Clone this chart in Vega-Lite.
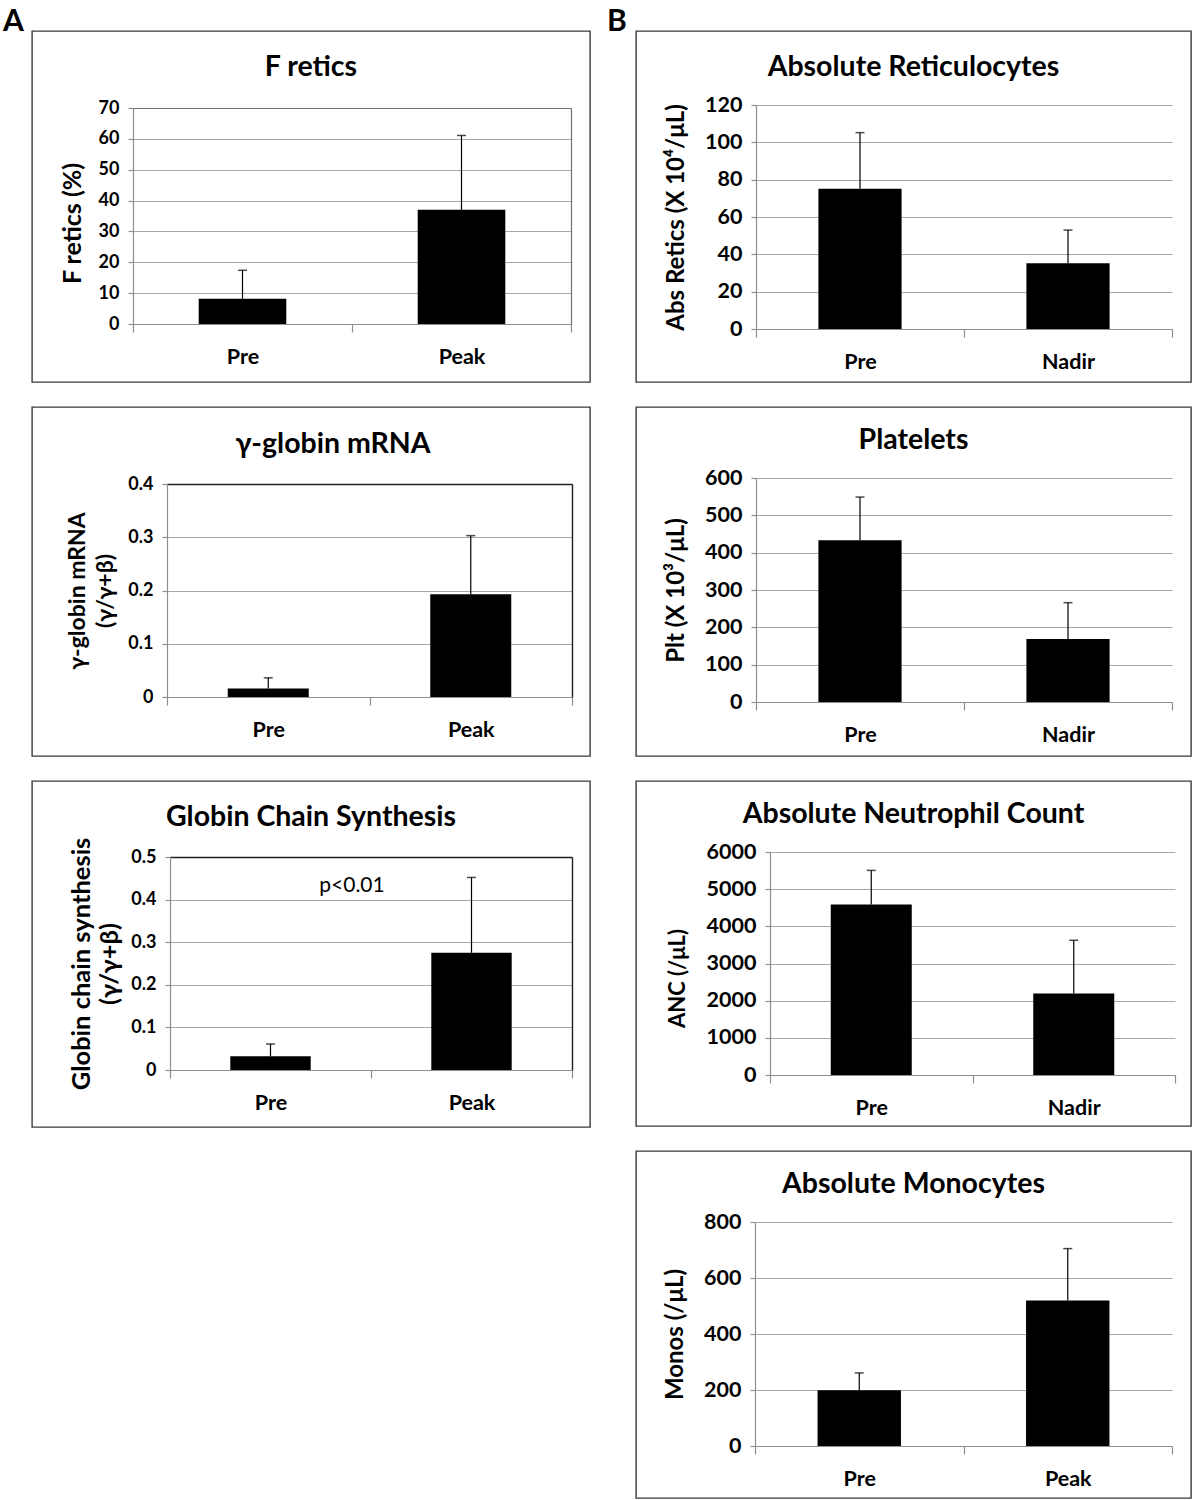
{
  "$schema": "https://vega.github.io/schema/vega-lite/v6.json",
  "padding": {"left": 3, "top": 7, "right": 0, "bottom": 0},
  "spacing": 16,
  "config": {
    "font": "Lato",
    "view": {"stroke": "#3a3a3a", "strokeWidth": 1.4},
    "axis": {
      "labelFont": "Lato", "labelFontWeight": "bold", "labelColor": "#000",
      "titleFont": "Lato", "titleFontWeight": "bold", "titleColor": "#000",
      "domainColor": "#8f8f8f", "tickColor": "#8f8f8f", "gridColor": "#a8a8a8",
      "domainWidth": 1.2, "gridWidth": 1.2, "tickWidth": 1.2
    },
    "title": {"font": "Lato", "fontWeight": "bold", "color": "#000", "fontSize": 28.5, "frame": "group", "anchor": "middle"},
    "bar": {"color": "#000"},
    "rule": {"color": "#000"},
    "tick": {"color": "#000"},
    "text": {"color": "#000"}
  },
  "datasets": {
    "fretics": [{"cond": "Pre", "mean": 8.2, "upper": 17.4}, {"cond": "Peak", "mean": 37.0, "upper": 61.1}],
    "gmrna": [{"cond": "Pre", "mean": 0.016, "upper": 0.036}, {"cond": "Peak", "mean": 0.193, "upper": 0.303}],
    "gcs": [{"cond": "Pre", "mean": 0.032, "upper": 0.061}, {"cond": "Peak", "mean": 0.275, "upper": 0.452}],
    "gcsnote": [{"cond": "Peak", "y": 0.432, "label": "p<0.01"}],
    "retic": [{"cond": "Pre", "mean": 75.2, "upper": 105.2}, {"cond": "Nadir", "mean": 35.2, "upper": 53.0}],
    "plt": [{"cond": "Pre", "mean": 433, "upper": 549}, {"cond": "Nadir", "mean": 169, "upper": 266}],
    "anc": [{"cond": "Pre", "mean": 4590, "upper": 5505}, {"cond": "Nadir", "mean": 2195, "upper": 3625}],
    "mono": [{"cond": "Pre", "mean": 199, "upper": 261}, {"cond": "Peak", "mean": 520, "upper": 705}]
  },
  "hconcat": [
    {
      "title": {"text": "A", "anchor": "start", "dx": -29, "offset": -7, "fontSize": 30},
      "spacing": 23,
      "vconcat": [
        {
          "width": 558, "height": 351,
          "data": {"name": "fretics"},
          "title": {"text": "F retics", "offset": -50},
          "layer": [
            {"mark": {"type": "bar", "width": {"band": 0.4}},
             "encoding": {
               "x": {"field": "cond", "type": "nominal", "sort": null, "scale": {"type": "band", "range": [101, 539], "paddingInner": 0, "paddingOuter": 0},
                     "axis": {"orient": "bottom", "offset": -58, "title": null, "labelAngle": 0, "labelFontSize": 21.5, "labelPadding": 14, "tickBand": "extent", "tickSize": 8, "grid": false}},
               "y": {"field": "mean", "type": "quantitative", "scale": {"domain": [0, 70], "range": [293, 77], "nice": false},
                     "axis": {"orient": "left", "offset": -101, "values": [0, 10, 20, 30, 40, 50, 60, 70], "labelExpr": "format(datum.value, '~g')", "title": "F retics (%)", "titleFontSize": 25, "titlePadding": 13, "titleY": 192, "labelFontSize": 18, "labelPadding": 9, "tickSize": 5, "grid": true}}
             }},
            {"mark": {"type": "rule", "strokeWidth": 1.2},
             "encoding": {
               "x": {"field": "cond", "type": "nominal", "sort": null, "scale": {"type": "band", "range": [101, 539], "paddingInner": 0, "paddingOuter": 0}, "axis": null},
               "y": {"field": "mean", "type": "quantitative", "scale": {"domain": [0, 70], "range": [293, 77], "nice": false}, "axis": null},
               "y2": {"field": "upper"}
             }},
            {"mark": {"type": "tick", "size": 9, "thickness": 1.5},
             "encoding": {
               "x": {"field": "cond", "type": "nominal", "sort": null, "scale": {"type": "band", "range": [101, 539], "paddingInner": 0, "paddingOuter": 0},
                     "axis": {"orient": "top", "offset": -77, "domainColor": "#707070", "labels": false, "ticks": false, "grid": false, "title": null}},
               "y": {"field": "upper", "type": "quantitative", "scale": {"domain": [0, 70], "range": [293, 77], "nice": false},
                     "axis": {"orient": "right", "offset": -19, "domainColor": "#707070", "labels": false, "ticks": false, "grid": false, "title": null}}
             }}
          ],
          "resolve": {"axis": {"x": "independent", "y": "independent"}}
        },
        {
          "width": 558, "height": 349,
          "data": {"name": "gmrna"},
          "title": {"text": "γ-globin mRNA", "offset": -51, "dx": 22},
          "layer": [
            {"mark": {"type": "bar", "width": {"band": 0.4}},
             "encoding": {
               "x": {"field": "cond", "type": "nominal", "sort": null, "scale": {"type": "band", "range": [135, 540], "paddingInner": 0, "paddingOuter": 0},
                     "axis": {"orient": "bottom", "offset": -59, "title": null, "labelAngle": 0, "labelFontSize": 21.5, "labelPadding": 14, "tickBand": "extent", "tickSize": 8, "grid": false}},
               "y": {"field": "mean", "type": "quantitative", "scale": {"domain": [0, 0.4], "range": [290, 77], "nice": false},
                     "axis": {"orient": "left", "offset": -135, "values": [0, 0.1, 0.2, 0.3, 0.4], "labelExpr": "format(datum.value, '~g')", "title": ["γ-globin mRNA", "(γ/γ+β)"], "titleLineHeight": 28, "titleFontSize": 23, "titlePadding": 10, "labelFontSize": 18, "labelPadding": 9, "tickSize": 5, "grid": true}}
             }},
            {"mark": {"type": "rule", "strokeWidth": 1.2},
             "encoding": {
               "x": {"field": "cond", "type": "nominal", "sort": null, "scale": {"type": "band", "range": [135, 540], "paddingInner": 0, "paddingOuter": 0}, "axis": null},
               "y": {"field": "mean", "type": "quantitative", "scale": {"domain": [0, 0.4], "range": [290, 77], "nice": false}, "axis": null},
               "y2": {"field": "upper"}
             }},
            {"mark": {"type": "tick", "size": 9, "thickness": 1.5},
             "encoding": {
               "x": {"field": "cond", "type": "nominal", "sort": null, "scale": {"type": "band", "range": [135, 540], "paddingInner": 0, "paddingOuter": 0},
                     "axis": {"orient": "top", "offset": -77, "domainColor": "#202020", "domainWidth": 1.4, "labels": false, "ticks": false, "grid": false, "title": null}},
               "y": {"field": "upper", "type": "quantitative", "scale": {"domain": [0, 0.4], "range": [290, 77], "nice": false},
                     "axis": {"orient": "right", "offset": -18, "domainColor": "#202020", "domainWidth": 1.4, "labels": false, "ticks": false, "grid": false, "title": null}}
             }}
          ],
          "resolve": {"axis": {"x": "independent", "y": "independent"}}
        },
        {
          "width": 558, "height": 346,
          "data": {"name": "gcs"},
          "title": {"text": "Globin Chain Synthesis", "offset": -50},
          "layer": [
            {"mark": {"type": "bar", "width": {"band": 0.4}},
             "encoding": {
               "x": {"field": "cond", "type": "nominal", "sort": null, "scale": {"type": "band", "range": [138, 540], "paddingInner": 0, "paddingOuter": 0},
                     "axis": {"orient": "bottom", "offset": -57, "title": null, "labelAngle": 0, "labelFontSize": 21.5, "labelPadding": 14, "tickBand": "extent", "tickSize": 8, "grid": false}},
               "y": {"field": "mean", "type": "quantitative", "scale": {"domain": [0, 0.5], "range": [289, 76], "nice": false},
                     "axis": {"orient": "left", "offset": -138, "values": [0, 0.1, 0.2, 0.3, 0.4, 0.5], "labelExpr": "format(datum.value, '~g')", "title": ["Globin chain synthesis", "(γ/γ+β)"], "titleLineHeight": 28, "titleFontSize": 25.5, "titlePadding": 8, "labelFontSize": 18, "labelPadding": 9, "tickSize": 5, "grid": true}}
             }},
            {"mark": {"type": "rule", "strokeWidth": 1.2},
             "encoding": {
               "x": {"field": "cond", "type": "nominal", "sort": null, "scale": {"type": "band", "range": [138, 540], "paddingInner": 0, "paddingOuter": 0}, "axis": null},
               "y": {"field": "mean", "type": "quantitative", "scale": {"domain": [0, 0.5], "range": [289, 76], "nice": false}, "axis": null},
               "y2": {"field": "upper"}
             }},
            {"mark": {"type": "tick", "size": 9, "thickness": 1.5},
             "encoding": {
               "x": {"field": "cond", "type": "nominal", "sort": null, "scale": {"type": "band", "range": [138, 540], "paddingInner": 0, "paddingOuter": 0},
                     "axis": {"orient": "top", "offset": -76, "domainColor": "#202020", "domainWidth": 1.4, "labels": false, "ticks": false, "grid": false, "title": null}},
               "y": {"field": "upper", "type": "quantitative", "scale": {"domain": [0, 0.5], "range": [289, 76], "nice": false},
                     "axis": {"orient": "right", "offset": -18, "domainColor": "#202020", "domainWidth": 1.4, "labels": false, "ticks": false, "grid": false, "title": null}}
             }},
            {"data": {"name": "gcsnote"},
             "mark": {"type": "text", "fontSize": 21, "fontWeight": "normal", "dx": -19, "baseline": "middle", "align": "center"},
             "encoding": {
               "x": {"field": "cond", "type": "nominal", "sort": null, "bandPosition": 0, "scale": {"type": "band", "range": [138, 540], "paddingInner": 0, "paddingOuter": 0}, "axis": null},
               "y": {"field": "y", "type": "quantitative", "scale": {"domain": [0, 0.5], "range": [289, 76], "nice": false}, "axis": null},
               "text": {"field": "label"}
             }}
          ],
          "resolve": {"axis": {"x": "independent", "y": "independent"}}
        }
      ]
    },
    {
      "title": {"text": "B", "anchor": "start", "dx": -29, "offset": -7, "fontSize": 30},
      "spacing": 23,
      "vconcat": [
        {
          "width": 555, "height": 351,
          "data": {"name": "retic"},
          "title": {"text": "Absolute Reticulocytes", "offset": -50},
          "layer": [
            {"mark": {"type": "bar", "width": {"band": 0.4}},
             "encoding": {
               "x": {"field": "cond", "type": "nominal", "sort": null, "scale": {"type": "band", "range": [120, 536], "paddingInner": 0, "paddingOuter": 0},
                     "axis": {"orient": "bottom", "offset": -53, "title": null, "labelAngle": 0, "labelFontSize": 21.5, "labelPadding": 14, "tickBand": "extent", "tickSize": 8, "grid": false}},
               "y": {"field": "mean", "type": "quantitative", "scale": {"domain": [0, 120], "range": [298, 74], "nice": false},
                     "axis": {"orient": "left", "offset": -120, "values": [0, 20, 40, 60, 80, 100, 120], "labelExpr": "format(datum.value, '~g')", "title": "Abs Retics (X 10⁴/μL)", "titleFontSize": 24, "titlePadding": 16, "labelFontSize": 21.5, "labelPadding": 9, "tickSize": 5, "grid": true}}
             }},
            {"mark": {"type": "rule", "strokeWidth": 1.2},
             "encoding": {
               "x": {"field": "cond", "type": "nominal", "sort": null, "scale": {"type": "band", "range": [120, 536], "paddingInner": 0, "paddingOuter": 0}, "axis": null},
               "y": {"field": "mean", "type": "quantitative", "scale": {"domain": [0, 120], "range": [298, 74], "nice": false}, "axis": null},
               "y2": {"field": "upper"}
             }},
            {"mark": {"type": "tick", "size": 9, "thickness": 1.5},
             "encoding": {
               "x": {"field": "cond", "type": "nominal", "sort": null, "scale": {"type": "band", "range": [120, 536], "paddingInner": 0, "paddingOuter": 0}, "axis": null},
               "y": {"field": "upper", "type": "quantitative", "scale": {"domain": [0, 120], "range": [298, 74], "nice": false}, "axis": null}
             }}
          ],
          "resolve": {"axis": {"x": "independent", "y": "independent"}}
        },
        {
          "width": 555, "height": 349,
          "data": {"name": "plt"},
          "title": {"text": "Platelets", "offset": -47},
          "layer": [
            {"mark": {"type": "bar", "width": {"band": 0.4}},
             "encoding": {
               "x": {"field": "cond", "type": "nominal", "sort": null, "scale": {"type": "band", "range": [120, 536], "paddingInner": 0, "paddingOuter": 0},
                     "axis": {"orient": "bottom", "offset": -54, "title": null, "labelAngle": 0, "labelFontSize": 21.5, "labelPadding": 14, "tickBand": "extent", "tickSize": 8, "grid": false}},
               "y": {"field": "mean", "type": "quantitative", "scale": {"domain": [0, 600], "range": [295, 71], "nice": false},
                     "axis": {"orient": "left", "offset": -120, "values": [0, 100, 200, 300, 400, 500, 600], "labelExpr": "format(datum.value, '~g')", "title": "Plt (X 10³/μL)", "titleFontSize": 24, "titlePadding": 16, "labelFontSize": 21.5, "labelPadding": 9, "tickSize": 5, "grid": true}}
             }},
            {"mark": {"type": "rule", "strokeWidth": 1.2},
             "encoding": {
               "x": {"field": "cond", "type": "nominal", "sort": null, "scale": {"type": "band", "range": [120, 536], "paddingInner": 0, "paddingOuter": 0}, "axis": null},
               "y": {"field": "mean", "type": "quantitative", "scale": {"domain": [0, 600], "range": [295, 71], "nice": false}, "axis": null},
               "y2": {"field": "upper"}
             }},
            {"mark": {"type": "tick", "size": 9, "thickness": 1.5},
             "encoding": {
               "x": {"field": "cond", "type": "nominal", "sort": null, "scale": {"type": "band", "range": [120, 536], "paddingInner": 0, "paddingOuter": 0}, "axis": null},
               "y": {"field": "upper", "type": "quantitative", "scale": {"domain": [0, 600], "range": [295, 71], "nice": false}, "axis": null}
             }}
          ],
          "resolve": {"axis": {"x": "independent", "y": "independent"}}
        },
        {
          "width": 555, "height": 345,
          "data": {"name": "anc"},
          "title": {"text": "Absolute Neutrophil Count", "offset": -47},
          "layer": [
            {"mark": {"type": "bar", "width": {"band": 0.4}},
             "encoding": {
               "x": {"field": "cond", "type": "nominal", "sort": null, "scale": {"type": "band", "range": [134, 539], "paddingInner": 0, "paddingOuter": 0},
                     "axis": {"orient": "bottom", "offset": -51, "title": null, "labelAngle": 0, "labelFontSize": 21.5, "labelPadding": 14, "tickBand": "extent", "tickSize": 8, "grid": false}},
               "y": {"field": "mean", "type": "quantitative", "scale": {"domain": [0, 6000], "range": [294, 71], "nice": false},
                     "axis": {"orient": "left", "offset": -134, "values": [0, 1000, 2000, 3000, 4000, 5000, 6000], "labelExpr": "format(datum.value, '~g')", "title": "ANC (/μL)", "titleFontSize": 22, "titlePadding": 17, "titleY": 197, "labelFontSize": 21.5, "labelPadding": 9, "tickSize": 5, "grid": true}}
             }},
            {"mark": {"type": "rule", "strokeWidth": 1.2},
             "encoding": {
               "x": {"field": "cond", "type": "nominal", "sort": null, "scale": {"type": "band", "range": [134, 539], "paddingInner": 0, "paddingOuter": 0}, "axis": null},
               "y": {"field": "mean", "type": "quantitative", "scale": {"domain": [0, 6000], "range": [294, 71], "nice": false}, "axis": null},
               "y2": {"field": "upper"}
             }},
            {"mark": {"type": "tick", "size": 9, "thickness": 1.5},
             "encoding": {
               "x": {"field": "cond", "type": "nominal", "sort": null, "scale": {"type": "band", "range": [134, 539], "paddingInner": 0, "paddingOuter": 0}, "axis": null},
               "y": {"field": "upper", "type": "quantitative", "scale": {"domain": [0, 6000], "range": [294, 71], "nice": false}, "axis": null}
             }}
          ],
          "resolve": {"axis": {"x": "independent", "y": "independent"}}
        },
        {
          "width": 555, "height": 347,
          "data": {"name": "mono"},
          "title": {"text": "Absolute Monocytes", "offset": -47},
          "layer": [
            {"mark": {"type": "bar", "width": {"band": 0.4}},
             "encoding": {
               "x": {"field": "cond", "type": "nominal", "sort": null, "scale": {"type": "band", "range": [119, 536], "paddingInner": 0, "paddingOuter": 0},
                     "axis": {"orient": "bottom", "offset": -52, "title": null, "labelAngle": 0, "labelFontSize": 21.5, "labelPadding": 14, "tickBand": "extent", "tickSize": 8, "grid": false}},
               "y": {"field": "mean", "type": "quantitative", "scale": {"domain": [0, 800], "range": [295, 71], "nice": false},
                     "axis": {"orient": "left", "offset": -119, "values": [0, 200, 400, 600, 800], "labelExpr": "format(datum.value, '~g')", "title": "Monos (/μL)", "titleFontSize": 24, "titlePadding": 16, "labelFontSize": 21.5, "labelPadding": 9, "tickSize": 5, "grid": true}}
             }},
            {"mark": {"type": "rule", "strokeWidth": 1.2},
             "encoding": {
               "x": {"field": "cond", "type": "nominal", "sort": null, "scale": {"type": "band", "range": [119, 536], "paddingInner": 0, "paddingOuter": 0}, "axis": null},
               "y": {"field": "mean", "type": "quantitative", "scale": {"domain": [0, 800], "range": [295, 71], "nice": false}, "axis": null},
               "y2": {"field": "upper"}
             }},
            {"mark": {"type": "tick", "size": 9, "thickness": 1.5},
             "encoding": {
               "x": {"field": "cond", "type": "nominal", "sort": null, "scale": {"type": "band", "range": [119, 536], "paddingInner": 0, "paddingOuter": 0}, "axis": null},
               "y": {"field": "upper", "type": "quantitative", "scale": {"domain": [0, 800], "range": [295, 71], "nice": false}, "axis": null}
             }}
          ],
          "resolve": {"axis": {"x": "independent", "y": "independent"}}
        }
      ]
    }
  ]
}
